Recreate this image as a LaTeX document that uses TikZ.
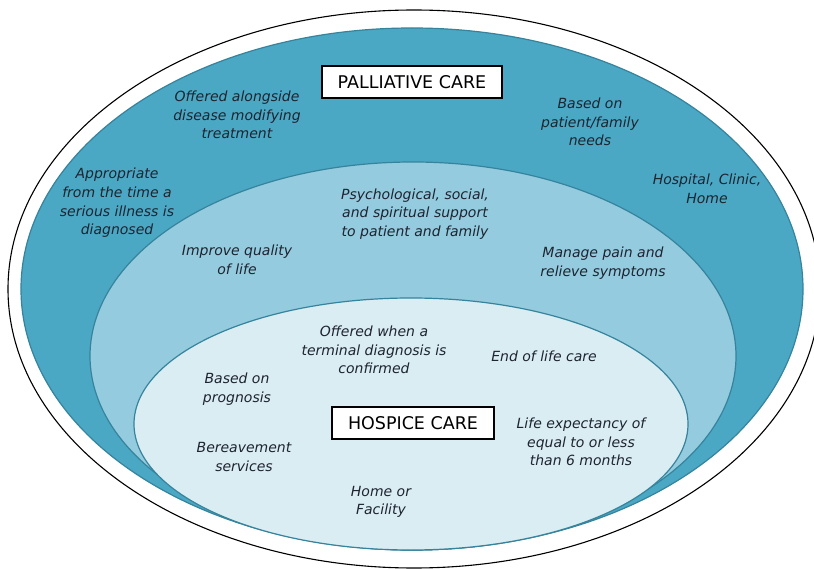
\documentclass[tikz,border=0pt]{standalone}
\usepackage{fontspec}
\setmainfont{DejaVu Sans}
\definecolor{palteal}{HTML}{4AA8C4}
\definecolor{palmid}{HTML}{94CBDE}
\definecolor{hoslight}{HTML}{DAEDF3}
\definecolor{rimteal}{HTML}{35839C}
\definecolor{inktext}{HTML}{1E2430}
\begin{document}
\begin{tikzpicture}[x=1pt,y=-1pt,
    note/.style={align=center,text=inktext,font=\fontsize{14}{18.6}\selectfont\itshape},
    title/.style={draw=black,fill=white,line width=2pt,text=black,inner xsep=16pt,
      inner ysep=9pt,font=\fontsize{17.5}{20}\selectfont},
    ring/.style={draw=rimteal,line width=1.2pt}]
      \useasboundingbox (0,0) rectangle (814,569);
      \clip (0,0) rectangle (814,569);
      % nested ellipses
      \draw[black,line width=1.1pt,fill=white] (414,289) ellipse [x radius=406pt,y radius=279pt];
      \draw[ring,fill=palteal] (412,289) ellipse [x radius=391pt,y radius=261pt];
      \draw[ring,fill=palmid] (413,356) ellipse [x radius=323pt,y radius=194pt];
      \draw[ring,fill=hoslight] (411,424) ellipse [x radius=277pt,y radius=126pt];
      % titles
      \draw
        (412,82) node[title] (pal){PALLIATIVE CARE}
        (413,423) node[title] (hos){HOSPICE CARE};
      % palliative ring
      \draw
        (237,115) node[note] (alongside){Offered alongside\\disease modifying\\treatment}
        (117,203) node[note] (appropriate){Appropriate\\from the time a\\serious illness is\\diagnosed}
        (590,122) node[note] (needs){Based on\\patient/family\\needs}
        (707,189) node[note] (settings){Hospital, Clinic,\\Home};
      % shared ring
      \draw
        (415,214) node[note] (support){Psychological, social,\\and spiritual support\\to patient and family}
        (237,260) node[note] (quality){Improve quality\\of life}
        (603,263) node[note] (pain){Manage pain and\\relieve symptoms};
      % hospice core
      \draw
        (374,350) node[note] (terminal){Offered when a\\terminal diagnosis is\\confirmed}
        (544,356) node[note] (endlife){End of life care}
        (237,389) node[note] (prognosis){Based on\\prognosis}
        (581,442) node[note] (expect){Life expectancy of\\equal to or less\\than 6 months}
        (244,457) node[note] (bereave){Bereavement\\services}
        (381,502) node[note] (facility){Home or\\Facility};
    \end{tikzpicture}
\end{document}
